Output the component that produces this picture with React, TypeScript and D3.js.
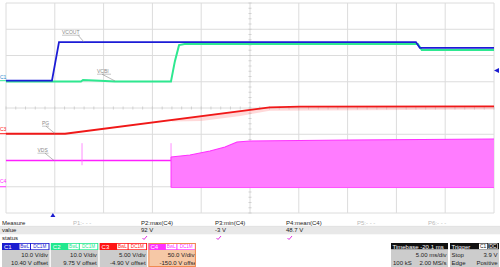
import React from "react";
import * as d3 from "d3";

// ---- data (time in ms, values in volts) ----
const c1Times = [0, 4.71, 5.43, 42.0, 42.4, 50];
const c1Volts = [0, 0, 14.7, 14.7, 12.5, 12.5];

const c2Times = [0, 7.68, 7.89, 9.63, 11.17, 16.9, 17.3, 17.73, 18.3, 42.2, 42.6, 50];
const c2Volts = [0.3, 0.3, 0.9, 0.6, 0.3, 0.3, 8, 14.2, 14.6, 14.6, 12.3, 12.3];

const c3Times = [0, 6.05, 27.0, 30.1, 50];
const c3Volts = [0, 0, 5.0, 5.15, 5.2];
const c3NoiseTimes = [17.0, 20, 24, 27, 50];
const c3NoiseDepth = [0.3, 0.9, 0.9, 0.6, 0.6];

const c4LineTimes = [0, 16.91];
const c4LineVolts = [50, 50];
const c4SpikeTimes = [7.79, 16.91];
const c4SpikeLow = [41, 50];
const c4SpikeHigh = [83, 83];
const c4EnvTimes = [16.91, 18.85, 20.9, 22.44, 23.67, 25.0, 35.2, 50];
const c4EnvHigh = [56.7, 60.5, 68.1, 75.7, 85.2, 87.1, 89.0, 91.0];
const c4EnvLow = [-1.5, -1.5, -1.5, -1.5, -1.5, -1.5, -1.5, -1.5];

const measNames = ["P1:- - -", "P2:max(C4)", "P3:min(C4)", "P4:mean(C4)", "P5:- - -", "P6:- - -"];
const measValues = ["", "92 V", "-3 V", "48.7 V", "", ""];
const measActive = [false, true, true, true, false, false];

const chanNames = ["C1", "C2", "C3", "C4"];
const chanVdiv = [10, 10, 5, 50];
const chanOffset = [10.4, 9.75, -4.9, -150];
const chanVdivText = ["10.0 V/div", "10.0 V/div", "5.00 V/div", "50.0 V/div"];
const chanOffsetText = ["10.40 V offset", "9.75 V offset", "-4.90 V offset", "-150.0 V offset"];
const chanColors = ["#1c1cd0", "#22e88e", "#ff1414", "#ff30ff"];

const traceLabels = ["VCOUT", "VCBI", "PG", "VDS"];

const FONT = "'Liberation Sans', Arial, sans-serif";

export default function App() {
  const W = 500, H = 267;
  const x = d3.scaleLinear().domain([0, 50]).range([6, 494]);
  const yd = d3.scaleLinear().domain([-4, 4]).range([213, 3]);
  const yc = (i: number) => (v: number) => yd((v + chanOffset[i]) / chanVdiv[i]);

  const mkLine = (ts: number[], vs: number[], i: number) =>
    d3.line<number>().x((_, k) => x(ts[k])).y((_, k) => yc(i)(vs[k]))(ts) || "";

  const c4Area = d3.area<number>()
    .x((_, k) => x(c4EnvTimes[k]))
    .y0((_, k) => yc(3)(c4EnvLow[k]))
    .y1((_, k) => yc(3)(c4EnvHigh[k]))(c4EnvTimes) || "";
  const c4Top = d3.line<number>().x((_, k) => x(c4EnvTimes[k])).y((_, k) => yc(3)(c4EnvHigh[k]))(c4EnvTimes) || "";

  const c3Interp = (t: number) => {
    const i = d3.bisectLeft(c3Times, t);
    if (i <= 0) return c3Volts[0];
    const t0 = c3Times[i - 1], t1 = c3Times[i];
    return c3Volts[i - 1] + (c3Volts[i] - c3Volts[i - 1]) * (t - t0) / (t1 - t0);
  };
  const c3Noise = d3.area<number>()
    .x((t) => x(t))
    .y0((t) => yc(2)(c3Interp(t)))
    .y1((t, k) => yc(2)(c3Interp(t) - c3NoiseDepth[k]))(c3NoiseTimes) || "";

  const xTicks = d3.range(0, 51, 5);
  const yTicks = d3.range(-4, 5, 1);
  const xMinor = d3.range(0, 50.01, 1);
  const yMinor = d3.range(-4, 4.01, 0.2);

  const gridColor = "#dcdcdc";
  const labelColor = "#8a8a8a";

  const labelPos = [
    { tx: 62, ty: 34, w: 18, lx: 84, ly: 42, ax: 78 },
    { tx: 97, ty: 73, w: 14, lx: 115, ly: 81, ax: 102 },
    { tx: 42, ty: 125, w: 7, lx: 55, ly: 133.5, ax: 46 },
    { tx: 37.5, ty: 152, w: 11, lx: 54, ly: 160.5, ax: 45 },
  ];
  const measX = [73, 141, 215, 286, 357, 428];

  const boxW = 47.5;
  const boxX = (i: number) => 2 + i * 48.8;

  return (
    <svg width={W} height={H} style={{ position: "absolute", left: 0, top: 0, background: "#fff" }} fontFamily={FONT}>
      <rect x={0} y={0} width={W} height={H} fill="#fff" />
      {xTicks.map((t) => (
        <line key={"gx" + t} x1={x(t)} x2={x(t)} y1={yd(-4)} y2={yd(4)} stroke={gridColor} strokeWidth={1} />
      ))}
      {yTicks.map((t) => (
        <line key={"gy" + t} x1={x(0)} x2={x(50)} y1={yd(t)} y2={yd(t)} stroke={gridColor} strokeWidth={1} />
      ))}
      {xMinor.map((t) => (
        <line key={"mx" + t} x1={x(t)} x2={x(t)} y1={yd(0) - 1.5} y2={yd(0) + 1.5} stroke="#c8c8c8" strokeWidth={0.8} />
      ))}
      {yMinor.map((t, k) => (
        <line key={"my" + k} x1={x(25) - 1.5} x2={x(25) + 1.5} y1={yd(t)} y2={yd(t)} stroke="#c8c8c8" strokeWidth={0.8} />
      ))}

      {/* C4 VDS */}
      <path d={mkLine(c4LineTimes, c4LineVolts, 3)} fill="none" stroke="#ff20ff" strokeWidth={1.6} />
      {c4SpikeTimes.map((t, k) => (
        <line key={"sp" + k} x1={x(t)} x2={x(t)} y1={yc(3)(c4SpikeLow[k])} y2={yc(3)(c4SpikeHigh[k])} stroke="#ff70ff" strokeWidth={0.8} />
      ))}
      <path d={c4Area} fill="#ff7cff" stroke="none" />
      <path d={c4Top} fill="none" stroke="#ff30ff" strokeWidth={1.2} />
      <line x1={x(16.91)} x2={x(16.91)} y1={yc(3)(-1.5)} y2={yc(3)(56.7)} stroke="#ff30ff" strokeWidth={1} />
      <line x1={x(16.91)} x2={x(50)} y1={yc(3)(-1.5)} y2={yc(3)(-1.5)} stroke="#ff50ff" strokeWidth={1} />

      {/* C3 PG */}
      <path d={c3Noise} fill="#ff8080" opacity={0.3} />
      <path d={mkLine(c3Times, c3Volts, 2)} fill="none" stroke="#f01818" strokeWidth={1.8} />

      {/* C2 VCBI */}
      <path d={mkLine(c2Times, c2Volts, 1)} fill="none" stroke="#2ee890" strokeWidth={2} />
      {/* C1 VCOUT */}
      <path d={mkLine(c1Times, c1Volts, 0)} fill="none" stroke="#1c1cd6" strokeWidth={1.8} />

      {traceLabels.map((s, i) => {
        const p = labelPos[i];
        return (
          <g key={s}>
            <text x={p.tx} y={p.ty} fontSize={5} fill={labelColor}>{s}</text>
            <line x1={p.tx} x2={p.tx + p.w} y1={p.ty + 1.2} y2={p.ty + 1.2} stroke={labelColor} strokeWidth={0.5} />
            <line x1={p.ax} x2={p.lx} y1={p.ty + 1.2} y2={p.ly} stroke={labelColor} strokeWidth={0.6} />
          </g>
        );
      })}

      <text x={0} y={yc(0)(0) - 2} fontSize={5} fill="#2a8ad0">C1</text>
      <line x1={0} x2={6} y1={yc(0)(0)} y2={yc(0)(0)} stroke="#2ee890" strokeWidth={1} />
      <text x={0} y={yc(2)(0) - 3} fontSize={5} fill="#ff1414">C3</text>
      <line x1={0} x2={6} y1={yc(2)(0)} y2={yc(2)(0)} stroke="#ff1414" strokeWidth={1} />
      <text x={0} y={yc(3)(0) - 4} fontSize={5} fill="#ff30ff">C4</text>
      <line x1={0} x2={6} y1={yc(3)(0)} y2={yc(3)(0)} stroke="#ff30ff" strokeWidth={1} />

      <path d={`M${494},${yc(0)(3.9)} L${499},${yc(0)(3.9) - 2.5} L${499},${yc(0)(3.9) + 2.5} Z`} fill="#1c1cd0" />
      <path d={`M${x(4.8)},${213} L${x(4.8) - 2.5},${217} L${x(4.8) + 2.5},${217} Z`} fill="#1c1cd0" />

      <rect x={0} y={226.3} width={W} height={8} fill="#e8e8e8" />
      <line x1={0} x2={W} y1={226.3} y2={226.3} stroke="#d0d0d0" strokeWidth={0.5} />
      <text x={2} y={224.5} fontSize={6} fill="#222">Measure</text>
      <text x={2} y={232.3} fontSize={6} fill="#222">value</text>
      <text x={2} y={240} fontSize={6} fill="#222">status</text>
      {measNames.map((m, i) => {
        const mx = measX[i];
        return (
          <g key={m + i}>
            <text x={mx} y={224.5} fontSize={6} fill={measActive[i] ? "#222" : "#b8b8b8"}>{m}</text>
            <text x={mx} y={232.3} fontSize={6} fill="#222">{measValues[i]}</text>
            {measActive[i] && (
              <path d={`M${mx + 1.5},${238} L${mx + 3},${239.5} L${mx + 6},${236}`} fill="none" stroke="#e030e0" strokeWidth={1} />
            )}
          </g>
        );
      })}

      {chanNames.map((c, i) => {
        const bx = boxX(i);
        const col = chanColors[i];
        const sel = i === 3;
        return (
          <g key={c}>
            <rect x={bx} y={243} width={boxW} height={7} fill={col} />
            <text x={bx + 2} y={249} fontSize={6} fill="#fff">{c}</text>
            <rect x={bx + 17.5} y={243.8} width={10.5} height={5.5} fill="#fff" />
            <text x={bx + 22.75} y={248.4} fontSize={4.6} fill={col} textAnchor="middle">BwL</text>
            <rect x={bx + 29} y={243.8} width={17.5} height={5.5} fill="#fff" />
            <text x={bx + 37.75} y={248.4} fontSize={4.6} fill={col} textAnchor="middle">DC1M</text>
            <rect x={bx} y={250} width={boxW} height={17} fill={sel ? "#f6c8a6" : "#cccccc"} />
            {sel && <rect x={bx + 0.5} y={243.5} width={boxW - 1} height={23} fill="none" stroke="#f08a50" strokeWidth={1} />}
            <text x={bx + boxW - 1.5} y={256.5} fontSize={6} fill="#222" textAnchor="end">{chanVdivText[i]}</text>
            <text x={sel ? bx + boxW + 2.5 : bx + boxW - 1.5} y={264.5} fontSize={6} fill="#222" textAnchor="end"
              clipPath={sel ? "url(#c4clip)" : undefined}>{chanOffsetText[i]}</text>
          </g>
        );
      })}
      <defs>
        <clipPath id="c4clip">
          <rect x={boxX(3)} y={250} width={boxW - 1} height={17} />
        </clipPath>
      </defs>

      <rect x={391} y={243} width={57} height={6.5} fill="#111" />
      <text x={392.5} y={248.5} fontSize={6} fill="#fff">Timebase -20.1 ms</text>
      <rect x={391} y={249.5} width={57} height={17.5} fill="#cccccc" />
      <text x={446.5} y={256.5} fontSize={6} fill="#222" textAnchor="end">5.00 ms/div</text>
      <text x={393} y={264.5} fontSize={6} fill="#222">100 kS</text>
      <text x={446.5} y={264.5} fontSize={6} fill="#222" textAnchor="end">2.00 MS/s</text>

      <rect x={450} y={243} width={49} height={6.5} fill="#111" />
      <text x={451.5} y={248.5} fontSize={6} fill="#fff">Trigger</text>
      <rect x={479} y={243.6} width={8} height={5.4} fill="#fff" />
      <text x={483} y={248.3} fontSize={4.8} fill="#111" textAnchor="middle">C1</text>
      <rect x={488} y={243.8} width={9.5} height={5} fill="none" stroke="#fff" strokeWidth={0.6} />
      <text x={492.75} y={248.3} fontSize={4.8} fill="#fff" textAnchor="middle">DC</text>
      <rect x={450} y={249.5} width={49} height={17.5} fill="#cccccc" />
      <text x={451.5} y={256.5} fontSize={6} fill="#222">Stop</text>
      <text x={497.5} y={256.5} fontSize={6} fill="#222" textAnchor="end">3.9 V</text>
      <text x={451.5} y={264.5} fontSize={6} fill="#222">Edge</text>
      <text x={497.5} y={264.5} fontSize={6} fill="#222" textAnchor="end">Positive</text>
    </svg>
  );
}
